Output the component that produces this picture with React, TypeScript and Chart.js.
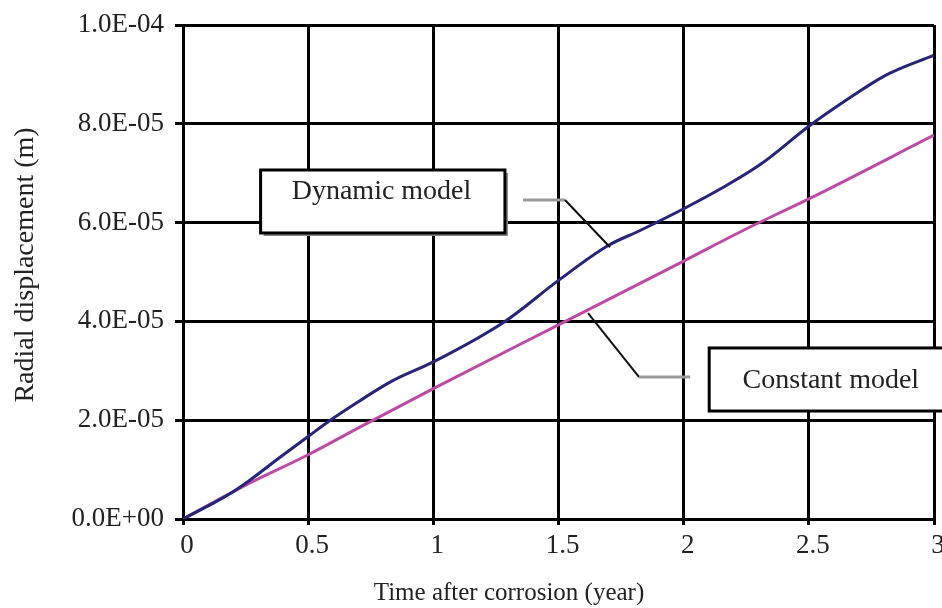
import React, { useEffect, useRef } from 'react';
import { Chart, registerables } from 'chart.js';

Chart.register(...registerables);

// ---- data ----
const xTickValues = [0, 0.5, 1, 1.5, 2, 2.5, 3];
const xTickLabels = ['0', '0.5', '1', '1.5', '2', '2.5', '3'];
const yTickValues = [0, 2e-5, 4e-5, 6e-5, 8e-5, 1e-4];
const yTickLabels = ['0.0E+00', '2.0E-05', '4.0E-05', '6.0E-05', '8.0E-05', '1.0E-04'];

const dynamicTime = [0, 0.117, 0.184, 0.26, 0.385, 0.5, 0.58, 0.705, 0.838, 1.0, 1.286, 1.5, 1.7, 1.826, 2.0, 2.16, 2.31, 2.5, 2.65, 2.81, 3.0];
const dynamicDisp = [0, 0.31e-5, 0.5e-5, 0.76e-5, 1.24e-5, 1.67e-5, 1.97e-5, 2.39e-5, 2.8e-5, 3.18e-5, 4.0e-5, 4.83e-5, 5.54e-5, 5.84e-5, 6.28e-5, 6.72e-5, 7.19e-5, 7.95e-5, 8.48e-5, 8.99e-5, 9.39e-5];

const constantTime = [0, 0.26, 0.5, 0.714, 1.0, 1.5, 2.0, 2.253, 2.5, 3.0];
const constantDisp = [0, 0.71e-5, 1.3e-5, 1.88e-5, 2.64e-5, 3.93e-5, 5.22e-5, 5.88e-5, 6.48e-5, 7.77e-5];

const xTitle = 'Time after corrosion (year)';
const yTitle = 'Radial displacement (m)';
const dynamicLabel = 'Dynamic model';
const constantLabel = 'Constant model';

const FONT = '"Liberation Serif", "Times New Roman", serif';
const TEXT = '#222222';

const overlayPlugin = {
  id: 'overlay',
  afterDraw(chart: any) {
    const { ctx } = chart;
    const xs = chart.scales.x;
    const ys = chart.scales.y;
    const X = (v: number) => xs.getPixelForValue(v);
    const Y = (v: number) => ys.getPixelForValue(v);
    ctx.save();

    // ---- Dynamic model callout ----
    {
      const l = X(0.31), r = X(1.286), t = Y(7.065e-5), b = Y(5.79e-5);
      ctx.fillStyle = '#858585';
      ctx.fillRect(l + 3, t + 3, r - l, b - t);
      ctx.fillStyle = '#ffffff';
      ctx.fillRect(l, t, r - l, b - t);
      ctx.strokeStyle = '#000';
      ctx.lineWidth = 3;
      ctx.strokeRect(l, t, r - l, b - t);
      ctx.fillStyle = TEXT;
      ctx.font = `28px ${FONT}`;
      ctx.textAlign = 'center';
      ctx.textBaseline = 'alphabetic';
      ctx.fillText(dynamicLabel, X(0.793), Y(6.478e-5));
      ctx.strokeStyle = '#9a9a9a';
      ctx.lineWidth = 3;
      ctx.beginPath();
      ctx.moveTo(X(1.358), Y(6.457e-5));
      ctx.lineTo(X(1.526), Y(6.457e-5));
      ctx.stroke();
      ctx.strokeStyle = '#111';
      ctx.lineWidth = 2;
      ctx.beginPath();
      ctx.moveTo(X(1.526), Y(6.457e-5));
      ctx.lineTo(X(1.706), Y(5.5e-5));
      ctx.stroke();
    }

    // ---- Constant model callout ----
    {
      const l = X(2.102), r = X(3.11), t = Y(3.462e-5), b = Y(2.186e-5);
      ctx.fillStyle = '#ffffff';
      ctx.fillRect(l, t, r - l, b - t);
      ctx.strokeStyle = '#000';
      ctx.lineWidth = 3;
      ctx.strokeRect(l, t, r - l, b - t);
      ctx.fillStyle = TEXT;
      ctx.font = `28px ${FONT}`;
      ctx.textAlign = 'center';
      ctx.textBaseline = 'alphabetic';
      ctx.fillText(constantLabel, X(2.588), Y(2.652e-5));
      ctx.strokeStyle = '#111';
      ctx.lineWidth = 2;
      ctx.beginPath();
      ctx.moveTo(X(1.618), Y(4.17e-5));
      ctx.lineTo(X(1.822), Y(2.874e-5));
      ctx.stroke();
      ctx.strokeStyle = '#9a9a9a';
      ctx.lineWidth = 3;
      ctx.beginPath();
      ctx.moveTo(X(1.822), Y(2.874e-5));
      ctx.lineTo(X(2.026), Y(2.874e-5));
      ctx.stroke();
    }

    // ---- axis titles ----
    ctx.fillStyle = TEXT;
    ctx.font = `25px ${FONT}`;
    ctx.textAlign = 'center';
    ctx.textBaseline = 'alphabetic';
    ctx.fillText(xTitle, 509, 600);

    ctx.save();
    ctx.translate(33, 265);
    ctx.rotate(-Math.PI / 2);
    ctx.font = `28px ${FONT}`;
    ctx.fillText(yTitle, 0, 0);
    ctx.restore();

    ctx.restore();
  },
};

export default function App() {
  const ref = useRef<HTMLCanvasElement | null>(null);

  useEffect(() => {
    document.body.style.margin = '0';
    const canvas = ref.current;
    if (!canvas) return;
    const chart = new Chart(canvas, {
      type: 'line',
      data: {
        datasets: [
          {
            label: dynamicLabel,
            data: dynamicTime.map((t, i) => ({ x: t, y: dynamicDisp[i] })),
            borderColor: '#25257a',
            borderWidth: 3,
            pointRadius: 0,
            cubicInterpolationMode: 'monotone',
            fill: false,
          },
          {
            label: constantLabel,
            data: constantTime.map((t, i) => ({ x: t, y: constantDisp[i] })),
            borderColor: '#bd4ba6',
            borderWidth: 3,
            pointRadius: 0,
            cubicInterpolationMode: 'monotone',
            fill: false,
          },
        ],
      },
      options: {
        animation: false,
        responsive: false,
        devicePixelRatio: 1,
        layout: { padding: { left: 0, right: 8, top: 25, bottom: 0 } },
        plugins: {
          legend: { display: false },
          tooltip: { enabled: false },
          title: { display: false },
        },
        scales: {
          x: {
            type: 'linear',
            min: 0,
            max: 3,
            afterBuildTicks: (s: any) => {
              s.ticks = xTickValues.map((v) => ({ value: v }));
            },
            afterFit: (s: any) => {
              s.height = 89;
              s.paddingLeft = 0;
              s.paddingRight = 0;
            },
            ticks: {
              callback: (_v: any, i: number) => xTickLabels[i],
              font: { family: FONT, size: 27 },
              color: TEXT,
              padding: 5,
              maxRotation: 0,
              autoSkip: false,
              labelOffset: 4,
            },
            grid: { color: '#000', lineWidth: 3, tickLength: 6, drawTicks: true },
            border: { color: '#000', width: 3 },
          },
          y: {
            type: 'linear',
            min: 0,
            max: 1e-4,
            afterBuildTicks: (s: any) => {
              s.ticks = yTickValues.map((v) => ({ value: v }));
            },
            afterFit: (s: any) => {
              s.width = 183;
              s.paddingTop = 0;
              s.paddingBottom = 0;
            },
            ticks: {
              callback: (_v: any, i: number) => yTickLabels[i],
              font: { family: FONT, size: 27 },
              color: TEXT,
              padding: 11,
              autoSkip: false,
            },
            grid: { color: '#000', lineWidth: 3, tickLength: 8, drawTicks: true },
            border: { color: '#000', width: 3 },
          },
        },
      },
      plugins: [overlayPlugin],
    } as any);
    return () => chart.destroy();
  }, []);

  return (
    <div style={{ width: 942, height: 608, position: 'relative', overflow: 'hidden' }}>
      <canvas ref={ref} width={942} height={608} style={{ display: 'block' }} />
    </div>
  );
}
